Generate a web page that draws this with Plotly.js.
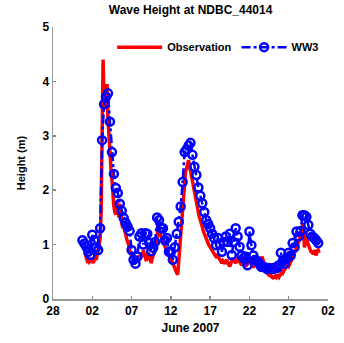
<!DOCTYPE html>
<html>
<head>
<meta charset="utf-8">
<script src="https://cdn.plot.ly/plotly-3.0.1.min.js"></script>
<style>html,body{margin:0;padding:0;background:#fff;}#chart{width:344px;height:343px;}</style>
</head>
<body>
<div id="chart"></div>
<script>
// Observation: 3-hourly, starting 2007-06-01 00:00
const obsStart = "2007-06-01T00:00:00Z";
const obsStepHours = 3;
const obsHeight = [
  0.85,0.82,0.75,0.70,0.72,0.68,0.70,0.75,
  0.70,0.66,0.72,0.75,0.72,0.80,0.90,0.95,
  1.10,1.60,3.00,4.40,3.60,3.80,3.50,3.95,
  3.30,2.90,2.60,2.40,2.20,1.90,1.70,1.60,
  1.55,1.80,1.60,1.50,1.75,1.45,1.40,1.30,
  1.35,1.25,1.20,1.10,1.05,1.00,0.90,0.85,
  0.80,0.75,0.70,0.65,0.70,0.75,0.72,0.78,
  0.80,0.75,0.85,0.78,0.90,0.82,0.75,0.70,
  0.80,0.85,0.78,0.72,0.66,0.75,0.80,0.85,
  0.90,0.95,1.10,1.45,1.30,1.20,1.15,1.10,
  1.05,1.00,0.95,0.90,0.88,0.85,0.80,0.75,
  0.72,0.70,0.65,0.60,0.55,0.52,0.48,0.45,
  0.70,0.90,1.10,1.30,1.70,1.90,2.10,2.35,
  2.40,2.50,2.55,2.45,2.35,2.30,2.20,2.10,
  2.00,1.90,1.82,1.70,1.60,1.50,1.45,1.40,
  1.33,1.25,1.20,1.15,1.10,1.05,1.00,0.98,
  0.96,0.92,0.88,0.85,0.82,0.80,0.78,0.80,
  0.78,0.75,0.72,0.70,0.66,0.70,0.68,0.65,
  0.70,0.72,0.66,0.62,0.60,0.65,0.70,0.75,
  0.72,0.68,0.66,0.70,0.75,0.72,0.68,0.65,
  0.62,0.65,0.70,0.66,0.60,0.62,0.65,0.70,
  0.68,0.72,0.65,0.60,0.58,0.62,0.66,0.70,
  0.72,0.66,0.62,0.68,0.75,0.78,0.70,0.60,
  0.55,0.50,0.48,0.45,0.44,0.46,0.42,0.40,
  0.39,0.40,0.42,0.40,0.45,0.42,0.40,0.44,
  0.45,0.50,0.48,0.52,0.55,0.58,0.60,0.62,
  0.60,0.65,0.70,0.72,0.75,0.80,0.85,0.90,
  0.95,1.00,1.05,1.10,1.15,1.20,1.35,1.40,
  0.95,1.10,1.15,1.05,1.00,0.95,0.90,0.85,
  0.88,0.82,0.90,0.85,0.80,0.88,0.90,0.85
];

// WW3 model: 6-hourly, starting 2007-05-31 18:00
const ww3Start = "2007-05-31T18:00:00Z";
const ww3StepHours = 6;
const ww3Height = [
  1.08,
  1.02,0.96,0.87,0.81,
  1.18,1.08,0.95,0.90,
  1.30,2.92,3.58,3.72,
  3.78,3.26,2.70,2.30,
  2.04,1.95,1.75,1.62,
  1.49,1.40,1.33,1.25,
  0.90,0.72,0.65,0.78,
  1.15,1.21,1.00,1.21,
  1.20,1.03,0.88,0.94,
  1.05,1.50,1.45,1.30,
  1.30,1.08,1.12,0.87,
  0.87,0.72,0.95,1.20,
  1.42,1.70,2.15,2.70,
  2.75,2.82,2.87,2.65,
  2.43,2.28,2.05,1.90,
  1.76,1.60,1.45,1.38,
  1.30,1.20,1.12,0.99,
  1.12,1.00,0.87,1.05,
  1.15,1.05,1.20,0.81,
  1.05,1.30,1.15,0.96,
  0.80,0.75,0.78,0.62,
  1.24,0.99,0.80,0.72,
  0.70,0.65,0.59,0.60,
  0.58,0.55,0.57,0.56,
  0.55,0.58,0.57,0.62,
  0.85,0.70,0.65,0.75,
  0.85,0.80,1.03,0.95,
  1.24,1.15,1.25,1.54,
  1.54,1.51,1.36,1.20,
  1.15,1.12,1.08,1.03
];

// Axis ticks
const xTickVals = ["2007-05-28","2007-06-02","2007-06-07","2007-06-12","2007-06-17","2007-06-22","2007-06-27","2007-07-02"];
const xTickText = ["28","02","07","12","17","22","27","02"];
const yTickVals = [0,1,2,3,4,5];

function timeSeries(start, stepH, n) {
  const t0 = new Date(start).getTime();
  const out = [];
  for (let i = 0; i < n; i++) {
    const d = new Date(t0 + i * stepH * 3600000);
    const p = v => String(v).padStart(2, "0");
    out.push(d.getUTCFullYear() + "-" + p(d.getUTCMonth() + 1) + "-" + p(d.getUTCDate()) + " " + p(d.getUTCHours()) + ":00");
  }
  return out;
}

const font = "Liberation Sans, Arial, Helvetica, sans-serif";

const traces = [
  {
    x: timeSeries(obsStart, obsStepHours, obsHeight.length),
    y: obsHeight,
    name: "Observation",
    type: "scatter",
    mode: "lines",
    line: {color: "#ff0000", width: 3.5}
  },
  {
    x: timeSeries(ww3Start, ww3StepHours, ww3Height.length),
    y: ww3Height,
    name: "WW3",
    type: "scatter",
    mode: "lines+markers",
    line: {color: "#0000ff", width: 2.5, dash: "dashdot"},
    marker: {symbol: "circle-open", size: 8, color: "#0000ff", line: {width: 2.5, color: "#0000ff"}}
  }
];

const layout = {
  width: 344,
  height: 343,
  margin: {l: 53, r: 16, t: 27, b: 44},
  paper_bgcolor: "#ffffff",
  plot_bgcolor: "#ffffff",
  font: {family: font, size: 12, color: "#000"},
  title: {
    text: "<b>Wave Height at NDBC_44014</b>",
    font: {family: font, size: 12, color: "#000"},
    x: 0.554, xanchor: "center", y: 0.972, yanchor: "middle"
  },
  showlegend: true,
  legend: {
    orientation: "h",
    x: 0.215, xanchor: "left",
    y: 0.926, yanchor: "middle",
    bgcolor: "rgba(0,0,0,0)",
    font: {family: font, size: 11, color: "#000", weight: "bold"},
    itemwidth: 45,
    tracegroupgap: 0
  },
  xaxis: {
    type: "date",
    range: ["2007-05-28", "2007-07-02"],
    tickvals: xTickVals,
    ticktext: xTickText,
    tickfont: {family: font, size: 12, color: "#000", weight: "bold"},
    ticks: "inside",
    ticklen: 3,
    tickcolor: "#888",
    tickwidth: 1.5,
    showline: true,
    linecolor: "#999",
    linewidth: 1.5,
    showgrid: false,
    zeroline: false,
    title: {text: "<b>June 2007</b>", font: {family: font, size: 12, color: "#000"}, standoff: 6}
  },
  yaxis: {
    range: [0, 5],
    tickvals: yTickVals,
    tickfont: {family: font, size: 12, color: "#000", weight: "bold"},
    ticks: "inside",
    ticklen: 3,
    tickcolor: "#888",
    tickwidth: 1.5,
    showline: true,
    linecolor: "#999",
    linewidth: 1.5,
    showgrid: false,
    zeroline: false,
    title: {text: "<b>Height (m)</b>", font: {family: font, size: 11, color: "#000"}, standoff: 14}
  }
};

Plotly.newPlot("chart", traces, layout, {displayModeBar: false, staticPlot: true});
</script>
</body>
</html>
